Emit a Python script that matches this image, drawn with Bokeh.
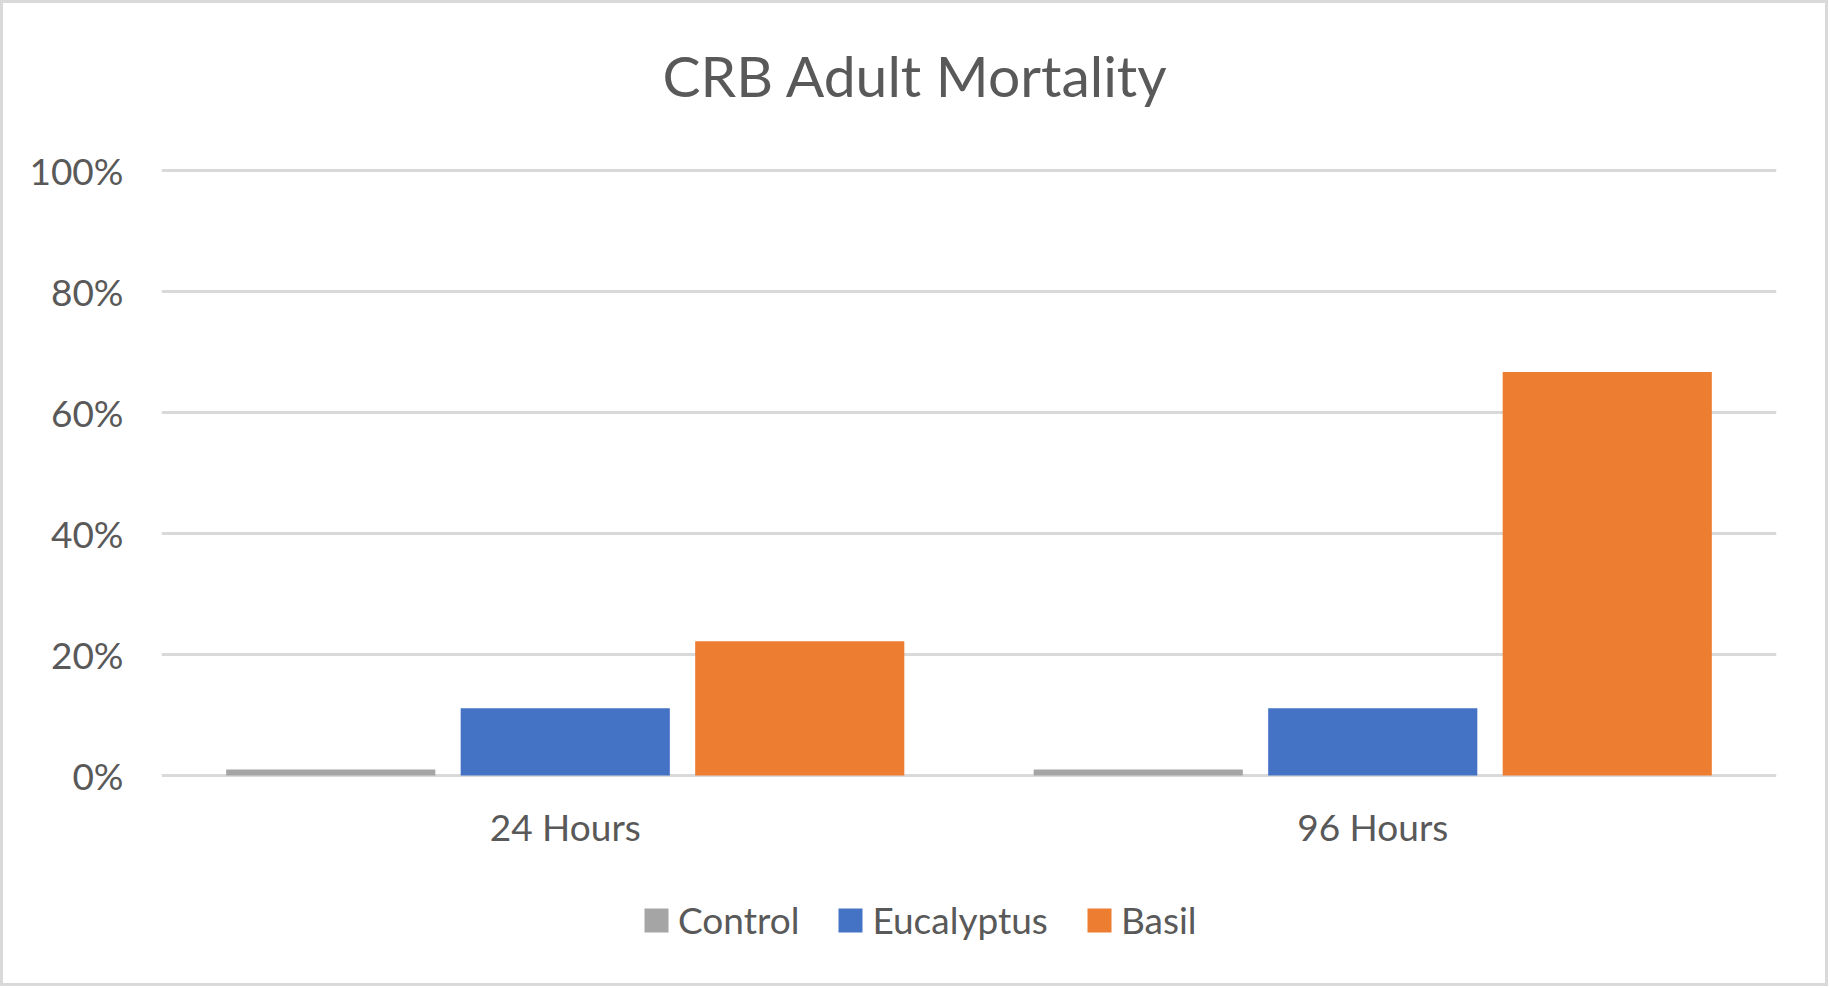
from bokeh.plotting import figure
from bokeh.models import ColumnDataSource, FactorRange, FixedTicker, NumeralTickFormatter, Legend, LegendItem, Range1d, Label
from bokeh.transform import dodge
from bokeh.embed import file_html
from bokeh.resources import INLINE

title_text = "CRB Adult Mortality"
categories = ["24 Hours", "96 Hours"]
series_names = ["Control", "Eucalyptus", "Basil"]
control = [0.01, 0.01]
eucalyptus = [0.111, 0.111]
basil = [0.222, 0.667]
y_ticks = [0.0, 0.2, 0.4, 0.6, 0.8, 1.0]
colors = ["#A5A5A5", "#4472C4", "#ED7D31"]

FONT = "Lato"
TXT = "#595959"

source = ColumnDataSource(data=dict(cat=categories, Control=control, Eucalyptus=eucalyptus, Basil=basil))

FRAME_H = 947
p = figure(x_range=FactorRange(factors=categories, range_padding=0),
           y_range=Range1d(-0.28926, 1.27603),
           frame_width=1615, frame_height=FRAME_H, output_backend="svg", toolbar_location=None,
           min_border_left=158, min_border_right=49, min_border_top=0, min_border_bottom=33)
p.styles = {"border": "3px solid #d9d9d9"}
p.outline_line_color = None
p.background_fill_color = "white"
p.border_fill_color = "white"

offsets = [-0.2904, 0.0, 0.2904]
renderers = []
for name, off, col in zip(series_names, offsets, colors):
    r = p.vbar(x=dodge("cat", off, range=p.x_range), top=name, bottom=0, width=0.259,
               source=source, fill_color=col, line_color=None)
    renderers.append(r)

p.xgrid.visible = False
p.ygrid.grid_line_color = "#d9d9d9"
p.ygrid.grid_line_width = 3
p.yaxis.ticker = FixedTicker(ticks=y_ticks)
p.yaxis.formatter = NumeralTickFormatter(format="0%")

for ax in (p.xaxis[0], p.yaxis[0]):
    ax.axis_line_color = None
    ax.major_tick_line_color = None
    ax.minor_tick_line_color = None
    ax.major_tick_out = 0
    ax.major_tick_in = 0
    ax.major_label_text_font = FONT
    ax.major_label_text_font_size = "37px"
    ax.major_label_text_color = TXT
p.yaxis.major_label_standoff = 38
p.xaxis.major_label_standoff = 9
p.xaxis.fixed_location = -0.03306

title = Label(x=754, y=FRAME_H - 71, x_units="screen", y_units="screen", text=title_text,
              text_font=FONT, text_font_size="57px", text_color=TXT,
              text_align="center", text_baseline="alphabetic")
p.add_layout(title)

legend = Legend(items=[LegendItem(label=n, renderers=[r]) for n, r in zip(series_names, renderers)],
                orientation="horizontal", location=(480, 8),
                glyph_width=30, glyph_height=30, label_standoff=7, spacing=36,
                label_text_font=FONT, label_text_font_size="37px", label_text_color=TXT,
                border_line_color=None, background_fill_alpha=0, padding=0, margin=0)
p.add_layout(legend, "center")

open("out.html", "w").write(file_html(p, INLINE))
